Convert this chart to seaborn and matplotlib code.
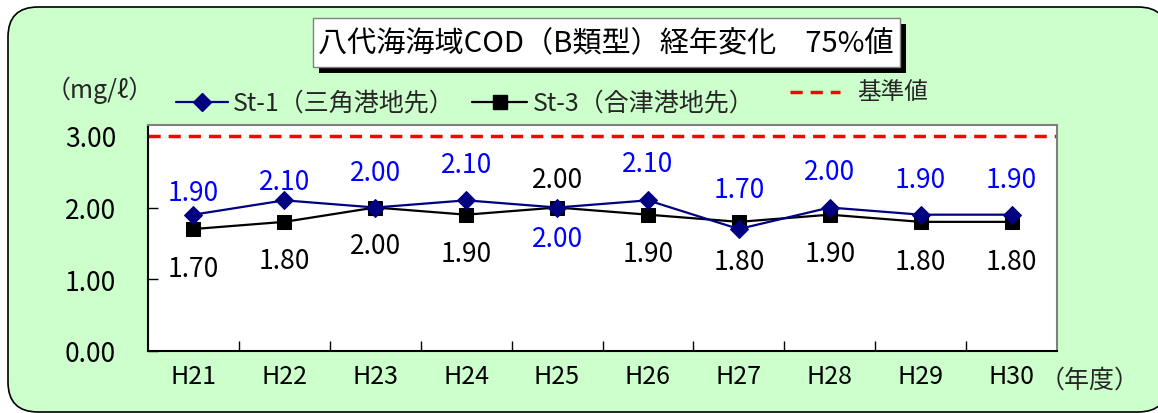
import pandas as pd
import seaborn as sns
import matplotlib.pyplot as plt
from matplotlib.patches import FancyBboxPatch, Rectangle
from matplotlib.lines import Line2D
from matplotlib.transforms import IdentityTransform

# data
years = ["H21", "H22", "H23", "H24", "H25", "H26", "H27", "H28", "H29", "H30"]
st1 = [1.90, 2.10, 2.00, 2.10, 2.00, 2.10, 1.70, 2.00, 1.90, 1.90]
st3 = [1.70, 1.80, 2.00, 1.90, 2.00, 1.90, 1.80, 1.90, 1.80, 1.80]
standard = 3.00
yticks = [0, 1, 2, 3]

# label offsets in pixels (positive = above the point)
st1_dy = [22, 19, 35, 36, -31, 37, 40, 36, 35, 35]
st3_dy = [-39, -39, -38, -39, 28, -39, -40, -39, -40, -40]

df = pd.DataFrame({"year": years, "St-1": st1, "St-3": st3})

sns.set_theme(style="white")
plt.rcParams['font.family'] = ['Noto Sans CJK JP', 'DejaVu Sans']

W, H = 1158, 414
fig = plt.figure(figsize=(W / 100, H / 100), dpi=100)
fig.patch.set_facecolor('white')
px = IdentityTransform()

# rounded green background
bg = FancyBboxPatch((8, 1), 1160, 405, boxstyle="round,pad=0,rounding_size=30",
                    facecolor='#CCFFCC', edgecolor='black', linewidth=1.2,
                    transform=px, zorder=-2)
fig.patches.append(bg)

# title box with shadow
fig.patches.append(Rectangle((319, 340), 587, 49, facecolor='black', edgecolor='none',
                             transform=px, zorder=2))
fig.patches.append(Rectangle((313, 346), 587, 49, facecolor='white', edgecolor='#808080',
                             linewidth=1, transform=px, zorder=3))
fig.text(606, 370, "八代海海域COD（B類型）経年変化　75%値", transform=px,
         ha='center', va='center', fontsize=21, color='black', zorder=4)

ax = fig.add_axes([148 / W, 62 / H, 909 / W, 226 / H])
ax.set_zorder(1)
ax.set_facecolor('white')

ax.axhline(standard, color='#FF0000', linewidth=2.5, linestyle=(0, (3.5, 2.3)), zorder=1)

sns.lineplot(data=df, x="year", y="St-1", ax=ax, color='#000080', linewidth=1.6,
             marker='D', markersize=9, markeredgecolor='#000080', zorder=3)
sns.lineplot(data=df, x="year", y="St-3", ax=ax, color='black', linewidth=1.6,
             marker='s', markersize=10, markeredgecolor='black', zorder=2)

for i, (v, dy) in enumerate(zip(st1, st1_dy)):
    ax.annotate(f"{v:.2f}", (i, v), xytext=(0, dy), textcoords='offset pixels',
                ha='center', va='center', fontsize=19, color='#0000FF')
for i, (v, dy) in enumerate(zip(st3, st3_dy)):
    ax.annotate(f"{v:.2f}", (i, v), xytext=(0, dy), textcoords='offset pixels',
                ha='center', va='center', fontsize=19, color='black')

ax.set_xlim(-0.5, len(years) - 0.5)
ax.set_ylim(0, 3.15)
ax.set_yticks(yticks)
ax.set_yticklabels([f"{t:.2f}" for t in yticks])
ax.set_xticks(range(len(years)))
ax.set_xticklabels(years)
ax.set_xticks([i + 0.5 for i in range(len(years) - 1)], minor=True)
ax.set_xlabel("")
ax.set_ylabel("")
ax.tick_params(axis='x', which='major', length=0, pad=9, labelsize=18, colors='black')
ax.tick_params(axis='x', which='minor', direction='in', length=7, width=1, color='black',
               bottom=True)
ax.tick_params(axis='y', direction='in', length=7, width=1, pad=23, labelsize=19,
               colors='black', left=True)
for s in ['left', 'bottom']:
    ax.spines[s].set_color('black')
    ax.spines[s].set_linewidth(1.5)
for s in ['top', 'right']:
    ax.spines[s].set_color('#808080')
    ax.spines[s].set_linewidth(1.5)
ax.grid(False)
if ax.get_legend():
    ax.get_legend().remove()

# hand placed legend
fig.add_artist(Line2D([176, 228], [311, 311], color='#000080', linewidth=1.6,
                      transform=px))
fig.add_artist(Line2D([202], [311], color='#000080', marker='D', markersize=9,
                      transform=px))
fig.text(233, 311, "St-1（三角港地先）", transform=px, ha='left', va='center', fontsize=18)
fig.add_artist(Line2D([472, 527], [311, 311], color='black', linewidth=1.6, transform=px))
fig.add_artist(Line2D([500], [311], color='black', marker='s', markersize=10, transform=px))
fig.text(533, 311, "St-3（合津港地先）", transform=px, ha='left', va='center', fontsize=18)
fig.add_artist(Line2D([790, 840], [321, 321], color='#FF0000', linewidth=2.5,
                      linestyle=(0, (3.5, 2.3)), transform=px))
fig.text(857, 321, "基準値", transform=px, ha='left', va='center', fontsize=17)

fig.text(46, 324, "（mg/ℓ）", transform=px, ha='left', va='center', fontsize=18)
fig.text(1040, 33, "（年度）", transform=px, ha='left', va='center', fontsize=18)

fig.savefig("out.png", dpi=100, facecolor='white')
